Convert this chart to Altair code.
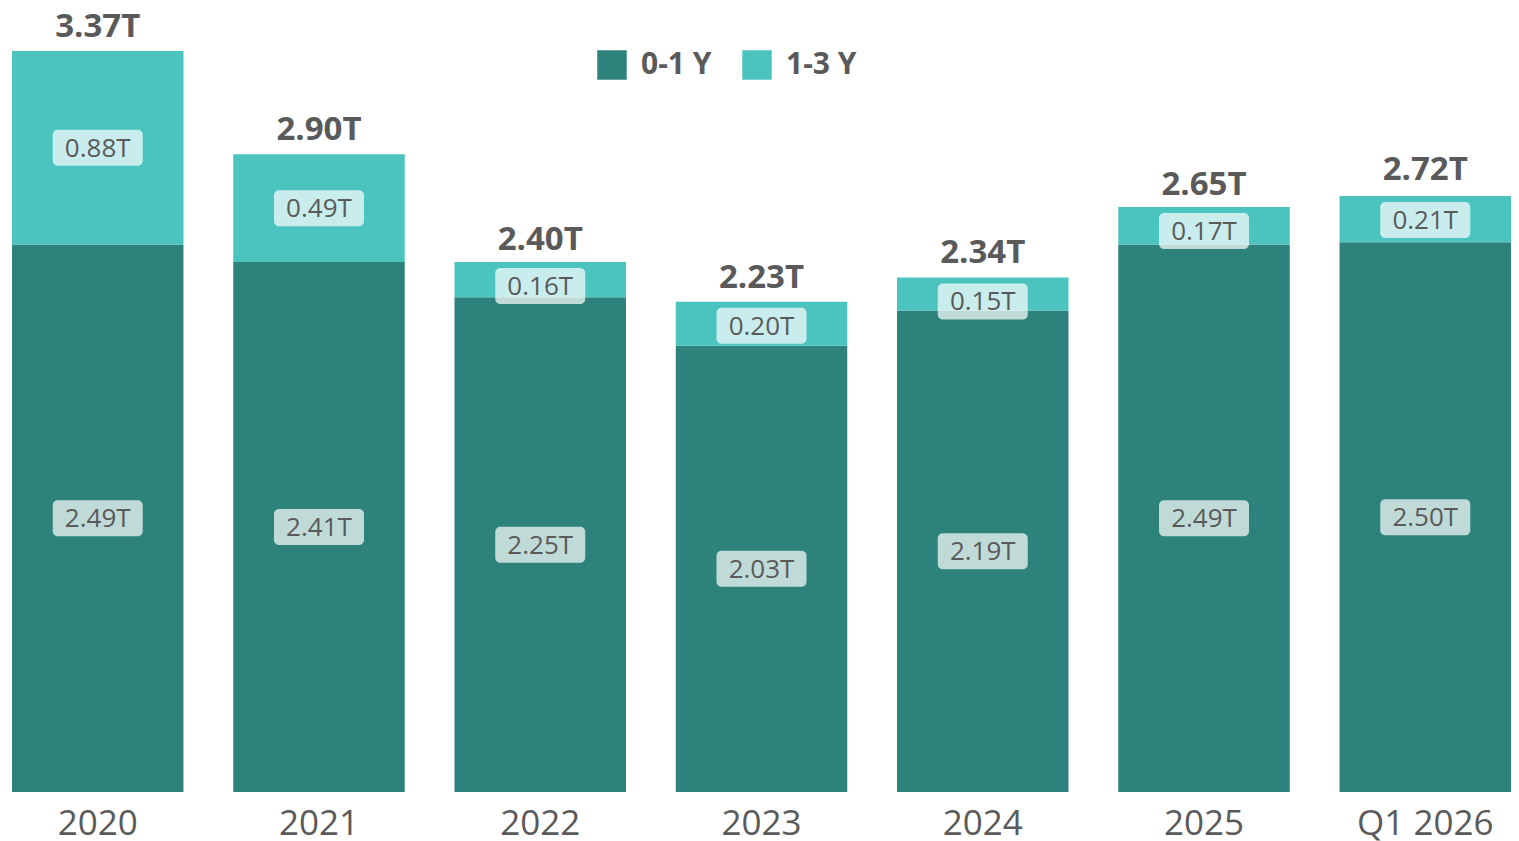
import altair as alt
import pandas as pd

years = ["2020", "2021", "2022", "2023", "2024", "2025", "Q1 2026"]
short_term = [2.49, 2.41, 2.25, 2.03, 2.19, 2.49, 2.50]      # 0-1 Y
mid_term = [0.88, 0.49, 0.16, 0.20, 0.15, 0.17, 0.21]        # 1-3 Y
totals = [3.37, 2.90, 2.40, 2.23, 2.34, 2.65, 2.72]
series_names = ["0-1 Y", "1-3 Y"]
colors = ["#2E827C", "#4BC4BF"]

W, H = 1499, 741
YMAX = 3.37
FONT = "Open Sans"
TXT = "#5a5a5a"

rows = []
for i, y in enumerate(years):
    rows.append({"year": y, "series": series_names[0], "value": short_term[i], "ord": 0})
    rows.append({"year": y, "series": series_names[1], "value": mid_term[i], "ord": 1})
df = pd.DataFrame(rows)
tot = pd.DataFrame({"year": years, "total": totals})

pad_units = 24 * YMAX / H

xscale = alt.Scale(paddingInner=0.225, paddingOuter=0)
xaxis = alt.Axis(title=None, labelAngle=0, domain=False, ticks=False, grid=False,
                 labelFont=FONT, labelFontSize=35, labelColor=TXT,
                 labelPadding=14)
xenc = alt.X("year:N", sort=years, scale=xscale, axis=xaxis)
yscale = alt.Scale(domain=[0, YMAX], nice=False, zero=True)

base = alt.Chart(df).transform_stack(
    stack="value", groupby=["year"], as_=["y0", "y1"],
    sort=[alt.SortField("ord", order="ascending")]
).transform_calculate(
    mid=f"min((datum.y0 + datum.y1) / 2, datum.y1 - {pad_units})",
    lab="format(datum.value, '.2f') + 'T'"
)

bars = base.mark_bar().encode(
    x=xenc,
    y=alt.Y("y0:Q", scale=yscale, axis=None),
    y2="y1:Q",
    color=alt.Color("series:N", sort=series_names,
                    scale=alt.Scale(domain=series_names, range=colors),
                    legend=alt.Legend(title=None, orient="none", legendX=585, legendY=-1,
                                      direction="horizontal", symbolType="square",
                                      symbolSize=870, symbolStrokeWidth=0,
                                      labelFont=FONT, labelFontSize=30, labelFontWeight="bold",
                                      labelColor=TXT, labelOffset=14, columnPadding=30,
                                      padding=0)),
)

boxes = base.mark_rect(width=90, height=36, cornerRadius=5, fill="white", opacity=0.7).encode(
    x=xenc,
    y=alt.Y("mid:Q", scale=yscale, axis=None),
)

seg_text = base.mark_text(font=FONT, fontSize=26, color=TXT, baseline="middle", dy=1).encode(
    x=xenc,
    y=alt.Y("mid:Q", scale=yscale, axis=None),
    text="lab:N",
)

tot_text = alt.Chart(tot).transform_calculate(
    lab="format(datum.total, '.2f') + 'T'"
).mark_text(font=FONT, fontSize=33, fontWeight="bold", color=TXT,
            baseline="alphabetic", dy=-14).encode(
    x=xenc,
    y=alt.Y("total:Q", scale=yscale, axis=None),
    text="lab:N",
)

chart = alt.layer(bars, boxes, seg_text, tot_text).properties(
    width=W, height=H,
    autosize=alt.AutoSizeParams(type="none"),
    padding={"left": 4, "top": 43, "right": 0, "bottom": 60},
    background="white",
).configure_view(strokeWidth=0, stroke="transparent")

chart.save("out.html", embed_options={"renderer": "svg", "actions": False})
